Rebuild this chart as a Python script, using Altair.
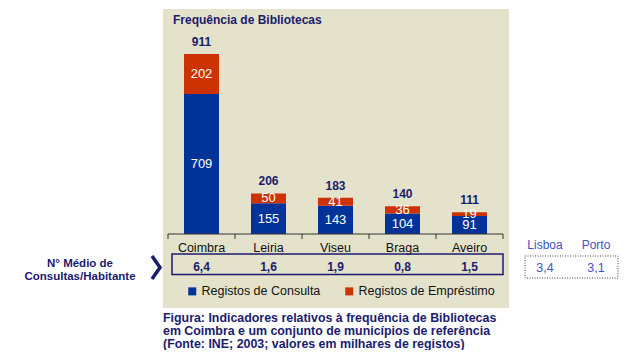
import altair as alt
import pandas as pd

# ---------------- data ----------------
cities = ["Coimbra", "Leiria", "Viseu", "Braga", "Aveiro"]
consulta = [709, 155, 143, 104, 91]
emprestimo = [202, 50, 41, 36, 19]
totals = [911, 206, 183, 140, 111]
media = ["6,4", "1,6", "1,9", "0,8", "1,5"]
ref_cities = ["Lisboa", "Porto"]
ref_media = ["3,4", "3,1"]
series = ["Registos de Consulta", "Registos de Empréstimo"]
title_text = "Frequência de Bibliotecas"
row_label = ["N° Médio de", "Consultas/Habitante"]
caption = [
    "Figura: Indicadores relativos à frequência de Bibliotecas",
    "em Coimbra e um conjunto de municípios de referência",
    "(Fonte: INE; 2003; valores em milhares de registos)",
]

# ---------------- tables ----------------
rows = []
for c, a, b in zip(cities, consulta, emprestimo):
    rows.append({"city": c, "series": series[0], "start": 0, "end": a, "value": a})
    rows.append({"city": c, "series": series[1], "start": a, "end": a + b, "value": b})
bars_df = pd.DataFrame(rows)
bars_df["mid"] = (bars_df["start"] + bars_df["end"]) / 2

tot_df = pd.DataFrame({"city": cities, "total": totals, "media": media})
ref_df = pd.DataFrame({"city": ref_cities, "media": ref_media})
one = pd.DataFrame({"k": [0]})

FONT = "Liberation Sans"
NAVY = "#1B1B6E"
BLUE = "#003399"
RED = "#CC3300"
BEIGE = "#E4E2CA"
REFBLUE = "#4253C4"

xscale = alt.Scale(type="band", domain=cities, range=[160, 495], paddingInner=0, paddingOuter=0)
yscale = alt.Scale(domain=[0, 911], range=[226, 46], nice=False, zero=True)
X = alt.X("city:N", scale=xscale, axis=None, sort=cities)

panel = alt.Chart(one).mark_rect(color=BEIGE).encode(
    x=alt.value(155), x2=alt.value(501), y=alt.value(1), y2=alt.value(300)
)

title = alt.Chart(one).mark_text(
    text=title_text, font=FONT, fontSize=12, fontWeight="bold", color=NAVY,
    align="left", baseline="middle"
).encode(x=alt.value(165), y=alt.value(12))

bars = alt.Chart(bars_df).mark_bar(size=35).encode(
    x=X,
    y=alt.Y("start:Q", scale=yscale, axis=None),
    y2="end:Q",
    color=alt.Color(
        "series:N",
        scale=alt.Scale(domain=series, range=[BLUE, RED]),
        legend=alt.Legend(
            orient="none", legendX=178, legendY=277, direction="horizontal",
            title=None, symbolType="square", symbolSize=64, symbolStrokeWidth=0,
            labelFont=FONT, labelFontSize=12.5, labelColor="#111111",
            labelOffset=3, columnPadding=22, padding=0, labelLimit=300,
        ),
    ),
)

seg_labels = alt.Chart(bars_df).mark_text(
    font=FONT, fontSize=13, color="white", baseline="middle"
).encode(x=X, y=alt.Y("mid:Q", scale=yscale, axis=None), text="value:Q")

tot_labels = alt.Chart(tot_df).mark_text(
    font=FONT, fontSize=12, fontWeight="bold", color=NAVY, baseline="alphabetic", dy=-8
).encode(x=X, y=alt.Y("total:Q", scale=yscale, axis=None), text="total:Q")

baseline = alt.Chart(one).mark_rule(color="#333333", strokeWidth=1).encode(
    x=alt.value(160), x2=alt.value(495), y=alt.value(226)
)
ticks = alt.Chart(tot_df).mark_rule(color="#333333", strokeWidth=1).encode(
    x=alt.X("city:N", scale=xscale, axis=None, sort=cities, bandPosition=0),
    y=alt.value(226), y2=alt.value(231),
)
last_tick = alt.Chart(one).mark_rule(color="#333333", strokeWidth=1).encode(
    x=alt.value(495), y=alt.value(226), y2=alt.value(231)
)

cat_labels = alt.Chart(tot_df).mark_text(
    font=FONT, fontSize=12.5, color="#111111", baseline="middle"
).encode(x=X, y=alt.value(240), text="city:N")

table_box = alt.Chart(one).mark_rect(fillOpacity=0, stroke=NAVY, strokeWidth=1.5).encode(
    x=alt.value(164), x2=alt.value(495), y=alt.value(246), y2=alt.value(266.5)
)
media_labels = alt.Chart(tot_df).mark_text(
    font=FONT, fontSize=12, fontWeight="bold", color=NAVY, baseline="middle"
).encode(x=X, y=alt.value(259), text="media:N")

row_text = alt.Chart(one).mark_text(
    text=row_label, font=FONT, fontSize=11.5, fontWeight="bold", color=NAVY,
    align="center", baseline="middle", lineHeight=13
).encode(x=alt.value(72), y=alt.value(256))

chevron = alt.Chart(one).mark_point(
    shape="M -0.35 -1 L 0.35 0 L -0.35 1", filled=False, stroke=NAVY,
    strokeWidth=3.5, size=529, strokeJoin="miter", opacity=1
).encode(x=alt.value(148), y=alt.value(259.5))

refx = alt.Scale(type="point", domain=ref_cities, range=[537, 588], padding=0)
ref_names = alt.Chart(ref_df).mark_text(
    font=FONT, fontSize=12, color=REFBLUE, baseline="middle"
).encode(x=alt.X("city:N", scale=refx, axis=None, sort=ref_cities), y=alt.value(237), text="city:N")
ref_vals = alt.Chart(ref_df).mark_text(
    font=FONT, fontSize=12.5, color=REFBLUE, baseline="middle"
).encode(x=alt.X("city:N", scale=refx, axis=None, sort=ref_cities), y=alt.value(260), text="media:N")
ref_box = alt.Chart(one).mark_rect(
    fillOpacity=0, stroke="#444444", strokeWidth=1, strokeDash=[1, 1.5]
).encode(x=alt.value(517), x2=alt.value(610), y=alt.value(248), y2=alt.value(270))

cap = alt.Chart(one).mark_text(
    text=caption, font=FONT, fontSize=12.4, fontWeight="bold", color=NAVY,
    align="left", baseline="middle", lineHeight=13
).encode(x=alt.value(155), y=alt.value(310))

chart = alt.layer(
    panel, title, bars, seg_labels, tot_labels, baseline, ticks, last_tick,
    cat_labels, table_box, media_labels, row_text, chevron,
    ref_names, ref_vals, ref_box, cap,
).resolve_scale(x="independent").properties(
    width=624, height=342, padding=0, autosize=alt.AutoSizeParams(type="none"),
    background="white",
).configure_view(stroke=None)

chart.save("out.html", embed_options={"renderer": "svg", "actions": False})
